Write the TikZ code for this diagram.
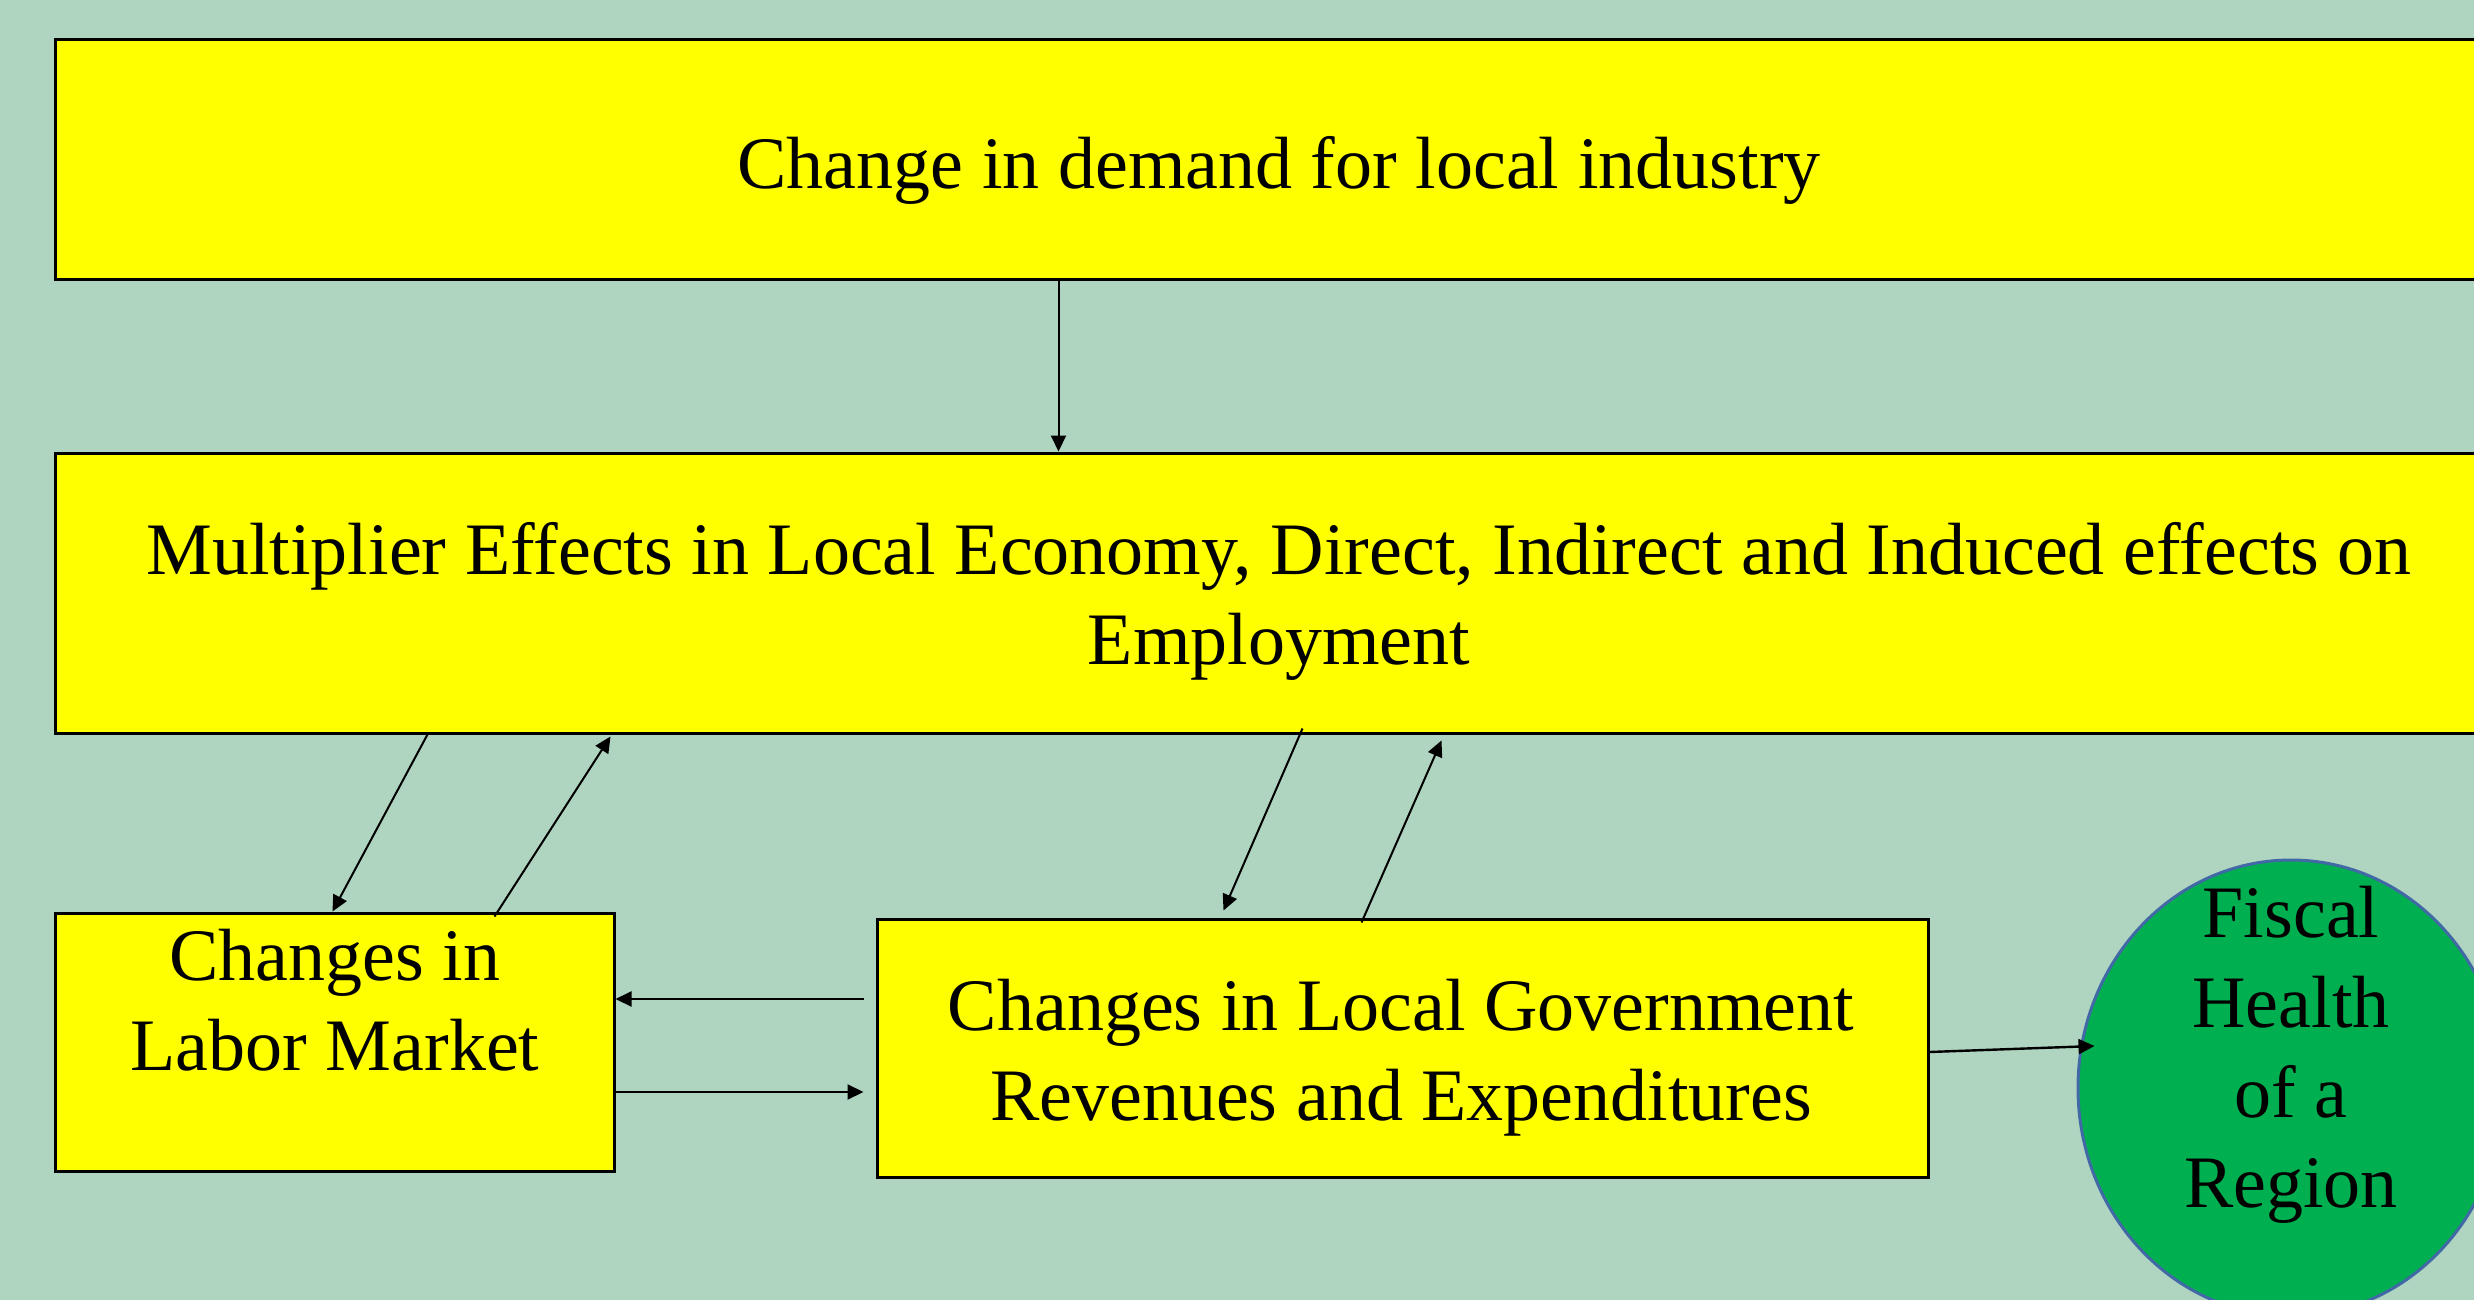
\documentclass[tikz,border=0pt]{standalone}
\usepackage{fontspec}
\setmainfont{Liberation Serif}
\usetikzlibrary{arrows.meta,shapes.geometric,calc}
\definecolor{bgc}{RGB}{175,212,192}
\definecolor{boxyellow}{RGB}{255,255,0}
\definecolor{fiscalgreen}{RGB}{0,176,80}
\definecolor{fiscalrim}{RGB}{65,105,165}
\begin{document}
\begin{tikzpicture}[x=0.5pt,y=-0.5pt,
  box/.style={rectangle,draw=black,fill=boxyellow,line width=1.5pt,inner sep=0pt},
  txt/.style={font=\fontsize{37}{45}\selectfont,align=center,inner sep=0pt},
  arr/.style={-{Triangle[length=8pt,width=7.5pt]},line width=1pt,draw=black}
]
\useasboundingbox (0,0) rectangle (2474,1300);
\fill[bgc] (0,0) rectangle (2474,1300);
\clip (0,0) rectangle (2474,1300);

% boxes
\node[box,minimum width=1224pt,minimum height=120pt] (demand) at (1279,160) {};
\node[box,minimum width=1224pt,minimum height=140pt] (multi) at (1279,593) {};
\node[box,minimum width=279.5pt,minimum height=129pt] (labor) at (334.5,1042) {};
\node[box,minimum width=525.5pt,minimum height=129pt] (gov) at (1402.5,1048) {};
\node[ellipse,draw=fiscalrim,fill=fiscalgreen,line width=1.5pt,inner sep=0pt,
      minimum width=213pt,minimum height=228pt] (fiscal) at (2291,1088) {};

% texts
\node[txt] (demandT) at (1279,171) {\strut Change in demand for local industry\strut};
\node[txt] (multiT) at (1279,601) {\strut Multiplier Effects in Local Economy, Direct, Indirect and Induced effects on\\Employment\strut};
\node[txt] (laborT) at (335,1007) {\strut Changes in\\Labor Market\strut};
\node[txt] (govT) at (1401,1057) {\strut Changes in Local Government\\Revenues and Expenditures\strut};
\node[txt] (fiscalT) at (2291,1054) {\strut Fiscal\\Health\\of a\\Region\strut};

% connectors
\draw[arr] ($(demand.south west)+(1005,0)$) -- ($(multi.north west)+(1005,0)$);
\draw[arr] ($(multi.south west)+(374,0)$) -- ($(labor.north west)+(279,0)$);
\draw[arr] ($(labor.north west)+(441,5)$) -- ($(multi.south west)+(557,2)$);
\draw[arr] ($(multi.south west)+(1249,-6)$) -- ($(gov.north west)+(348,-7)$);
\draw[arr] ($(gov.north west)+(486,5)$) -- ($(multi.south west)+(1388,6)$);
\draw[arr] ($(gov.west)+(-12,-49)$) -- ($(labor.east)+(0,-43)$);
\draw[arr] ($(labor.east)+(0,50)$) -- ($(gov.west)+(-12,44)$);
\draw[arr,line width=1.2pt] ($(gov.east)+(0,4)$) -- ($(fiscal.west)+(18,-42)$);
\end{tikzpicture}
\end{document}
